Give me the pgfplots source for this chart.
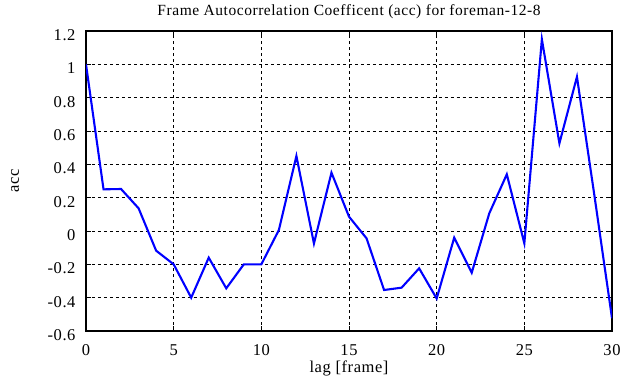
\documentclass[border=0pt]{standalone}
\usepackage{pgfplots}
\pgfplotsset{compat=1.18}
\usepackage{fontspec}
\setmainfont[LetterSpace=3.5]{Liberation Serif}
\begin{document}
\begin{tikzpicture}[x=1bp,y=1bp]
\path[use as bounding box] (0,0) rectangle (635,387);
\begin{axis}[
  at={(86bp,56bp)}, anchor=south west,
  scale only axis, width=526bp, height=300bp,
  xmin=0, xmax=30, ymin=-0.6, ymax=1.2,
  xtick={0,5,...,30}, ytick={-0.6,-0.4,...,1.2},
  yticklabels={-0.6,-0.4,-0.2,0,0.2,0.4,0.6,0.8,1,1.2},
  grid=major,
  major grid style={black, dashed, line width=0.8pt},
  axis line style={black, line width=1.6pt},
  tick style={black, line width=1pt},
  tick align=inside, major tick length=5bp,
  xtick pos=both, ytick pos=both,
  /pgf/number format/assume math mode=true,
  tick label style={font=\fontsize{16.5bp}{18bp}\selectfont},
  xticklabel style={anchor=base, yshift=-24bp},
  yticklabel style={xshift=-7bp, yshift=-4bp},
  label style={font=\fontsize{16.5bp}{18bp}\selectfont},
  xlabel style={at={(axis description cs:0.5,0)}, anchor=base, yshift=-41bp},
  ylabel style={at={(axis description cs:-0.135,0.5)}, anchor=center},
  title style={font=\fontsize{15.5bp}{17bp}\selectfont, at={(axis description cs:0.5,1)}, anchor=base, yshift=10bp},
  title={Frame Autocorrelation Coefficent (acc) for foreman-12-8},
  xlabel={lag [frame]}, ylabel={acc},
]
\addplot[blue, line width=2.1pt, mark=none] coordinates {
(0,1.0) (1,0.25) (2,0.252) (3,0.136) (4,-0.118) (5,-0.2) (6,-0.4) (7,-0.16)
(8,-0.344) (9,-0.2) (10,-0.2) (11,0.006) (12,0.45) (13,-0.075) (14,0.35)
(15,0.086) (16,-0.044) (17,-0.354) (18,-0.34) (19,-0.224) (20,-0.405)
(21,-0.04) (22,-0.25) (23,0.106) (24,0.34) (25,-0.074) (26,1.15) (27,0.526)
(28,0.925) (29,0.21) (30,-0.524)
};
\end{axis}
\end{tikzpicture}
\end{document}
